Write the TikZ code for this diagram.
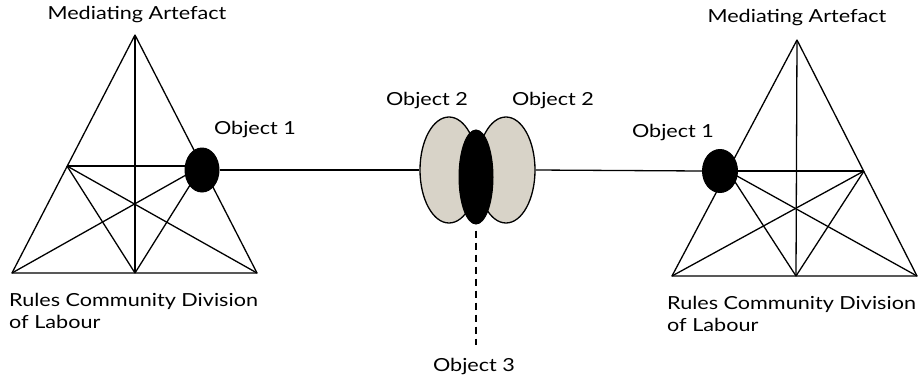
\documentclass[tikz,border=0pt]{standalone}
\usepackage{fontspec}
\setmainfont{Lato}[FakeStretch=1.2]
\usetikzlibrary{shapes.geometric}
\definecolor{stipple}{RGB}{216,211,200}
\begin{document}
\begin{tikzpicture}[x=1pt,y=1pt,
  edge/.style={line width=1.3pt, line join=round},
  blackobj/.style={ellipse, fill=black, draw=black, line width=1pt, inner sep=0pt},
  grayobj/.style={ellipse, fill=stipple, draw=black, line width=1.3pt, inner sep=0pt},
  lbl/.style={font=\fontsize{18}{22}\selectfont, inner sep=0pt}]
\useasboundingbox (0,0) rectangle (919,-381);
% left triangle
\coordinate (A1) at (135,-35);
\coordinate (BL1) at (12,-273);
\coordinate (BR1) at (257,-273);
\coordinate (BM1) at (135,-273);
\coordinate (L1) at (67,-166);
\coordinate (R1) at (202,-166);
\draw[edge] (A1) -- (BL1) -- (BR1) -- cycle;
\draw[edge] (A1) -- (BM1);
\draw[edge] (L1) -- (R1);
\draw[edge] (L1) -- (BR1);
\draw[edge] (L1) -- (BM1);
\draw[edge] (R1) -- (BL1);
\draw[edge] (R1) -- (BM1);
\node[blackobj, minimum width=34pt, minimum height=44pt] (ob1L) at (202,-170) {};
% right triangle
\coordinate (A2) at (797,-40);
\coordinate (BL2) at (672,-276);
\coordinate (BR2) at (917,-276);
\coordinate (BM2) at (796,-276);
\coordinate (L2) at (728,-171);
\coordinate (R2) at (864,-171);
\draw[edge] (A2) -- (BL2) -- (BR2) -- cycle;
\draw[edge] (A2) -- (BM2);
\draw[edge] (L2) -- (R2);
\draw[edge] (R2) -- (BL2);
\draw[edge] (R2) -- (BM2);
\draw[edge] (L2) -- (BR2);
\draw[edge] (L2) -- (BM2);
\node[blackobj, minimum width=35pt, minimum height=43pt] (ob1R) at (720,-171) {};
% central objects
\node[grayobj, minimum width=58pt, minimum height=106pt] (g1) at (449,-170) {};
\node[grayobj, minimum width=58pt, minimum height=106pt] (g2) at (506,-170) {};
\node[blackobj, minimum width=34pt, minimum height=94pt] (ob3) at (476,-177) {};
\draw[edge] (ob1L.east) -- (g1.west);
\draw[edge] (g2.east) -- (ob1R.west);
\coordinate (o3end) at (476,-345);
\draw[edge, dash pattern=on 7pt off 5pt] ([yshift=-6pt]ob3.south) -- (o3end);
% labels
\node[lbl] (tMA1) at (137,-15) {Mediating Artefact};
\node[lbl] (tMA2) at (797,-18) {Mediating Artefact};
\node[lbl] (tO1L) at (255,-130) {Object 1};
\node[lbl] (tO1R) at (673,-133) {Object 1};
\node[lbl] (tO2L) at (427,-101) {Object 2};
\node[lbl] (tO2R) at (553,-101) {Object 2};
\node[lbl] (tO3) at (474,-367) {Object 3};
\node[lbl, align=left, anchor=west] (tRL) at (9,-311) {Rules Community Division\\of Labour};
\node[lbl, align=left, anchor=west] (tRR) at (667,-313.5) {Rules Community Division\\of Labour};
\end{tikzpicture}
\end{document}
